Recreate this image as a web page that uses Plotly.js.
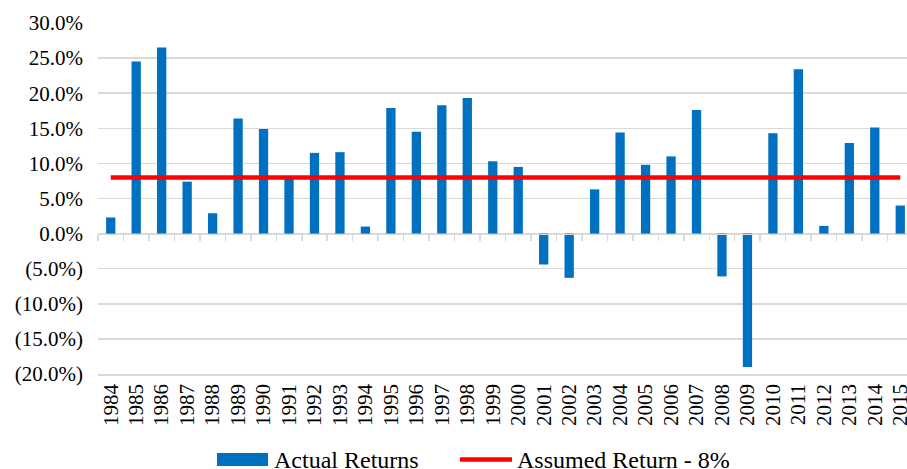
<!DOCTYPE html>
<html>
<head>
<meta charset="utf-8">
<script src="https://cdn.plot.ly/plotly-3.0.1.min.js"></script>
<style>
@font-face{font-family:'SerifX';src:local('Liberation Serif'),local('LiberationSerif'),local('LiberationSerif-Regular');}
html,body{margin:0;padding:0;overflow:hidden;background:#fff;}
#chart{width:915px;height:469px;}
</style>
</head>
<body>
<div id="chart"></div>
<script>
var years = ["1984","1985","1986","1987","1988","1989","1990","1991","1992","1993","1994","1995","1996","1997","1998","1999","2000","2001","2002","2003","2004","2005","2006","2007","2008","2009","2010","2011","2012","2013","2014","2015"];
var actualReturns = [2.3,24.5,26.5,7.4,2.9,16.4,14.9,7.9,11.5,11.6,1.0,17.9,14.5,18.3,19.3,10.3,9.5,-4.4,-6.3,6.3,14.4,9.8,11.0,17.6,-6.1,-19.0,14.3,23.4,1.1,12.9,15.1,4.0];
var assumedReturn = [8,8,8,8,8,8,8,8,8,8,8,8,8,8,8,8,8,8,8,8,8,8,8,8,8,8,8,8,8,8,8,8];
var yTickVals = [-20,-15,-10,-5,0,5,10,15,20,25,30];
var yTickText = ["(20.0%)","(15.0%)","(10.0%)","(5.0%)","0.0%","5.0%","10.0%","15.0%","20.0%","25.0%","30.0%"];
var seriesNames = ["Actual Returns","Assumed Return - 8%"];

(function(){
  var FAM = "Liberation Serif";
  var W = 915, H = 469, L = 98, R = 2, T = 23, B = 95;
  var pw = W - L - R, ph = H - T - B;
  function toX(x){ return (x - L)/pw; }
  function toY(y){ return (T + ph - y)/ph; }

  var traces = [
    {type:"bar", x:years, y:actualReturns, name:seriesNames[0], marker:{color:"#0070C0"}, xaxis:"x", yaxis:"y", showlegend:false},
    {type:"scatter", mode:"lines", x:years, y:assumedReturn, name:seriesNames[1], line:{color:"#FF0000", width:4.5}, xaxis:"x2", yaxis:"y", showlegend:false}
  ];

  var layout = {
    width: W, height: H,
    margin:{l:L, r:R, t:T, b:B, pad:0},
    paper_bgcolor:"#fff", plot_bgcolor:"#fff",
    bargap: 0.635,
    showlegend:false,
    xaxis:{type:"category", range:[-0.5,31.5], tickangle:-90, tickfont:{family:FAM, size:21},
           showgrid:false, showline:true, linecolor:"#d9d9d9", linewidth:1.5, ticks:"", zeroline:false, fixedrange:true},
    xaxis2:{type:"category", matches:"x", overlaying:"x", anchor:"free", position:0.4, side:"bottom",
            showline:true, linecolor:"#d9d9d9", linewidth:1.5, ticks:"outside", tickson:"boundaries",
            ticklen:6, tickwidth:1.5, tickcolor:"#d9d9d9", showticklabels:false, showgrid:false, zeroline:false},
    yaxis:{range:[-20,30], tickvals:yTickVals, ticktext:yTickText, tickfont:{family:FAM, size:21},
           showgrid:true, gridcolor:"#d9d9d9", gridwidth:1.5, zeroline:false, showline:false, ticks:"",
           ticklabelstandoff:14, fixedrange:true},
    shapes:[
      {type:"rect", xref:"paper", yref:"paper", x0:toX(217), x1:toX(268), y0:toY(453), y1:toY(466), fillcolor:"#0070C0", line:{width:0}},
      {type:"line", xref:"paper", yref:"paper", x0:toX(460), x1:toX(512), y0:toY(459.5), y1:toY(459.5), line:{color:"#FF0000", width:4.5}}
    ],
    annotations:[
      {xref:"paper", yref:"paper", x:toX(272), y:toY(459.5), xanchor:"left", yanchor:"middle", showarrow:false, text:seriesNames[0], font:{family:FAM, size:24}},
      {xref:"paper", yref:"paper", x:toX(515), y:toY(459.5), xanchor:"left", yanchor:"middle", showarrow:false, text:seriesNames[1], font:{family:FAM, size:24}}
    ]
  };
  var cfg = {displayModeBar:false, staticPlot:true};

  function fixText(){
    var ts = document.querySelectorAll("#chart svg text");
    for (var i = 0; i < ts.length; i++) {
      ts[i].style.setProperty("font-family", "'Liberation Serif', SerifX, serif", "important");
      ts[i].style.setProperty("fill", "rgb(0,0,0)", "important");
    }
  }
  Plotly.newPlot("chart", traces, layout, cfg).then(fixText);
  fixText();
  if (document.fonts && document.fonts.load) {
    document.fonts.load("21px SerifX").then(function(){
      return Plotly.react("chart", traces, layout, cfg);
    }).then(fixText).catch(function(){});
  }
})();
</script>
</body>
</html>
